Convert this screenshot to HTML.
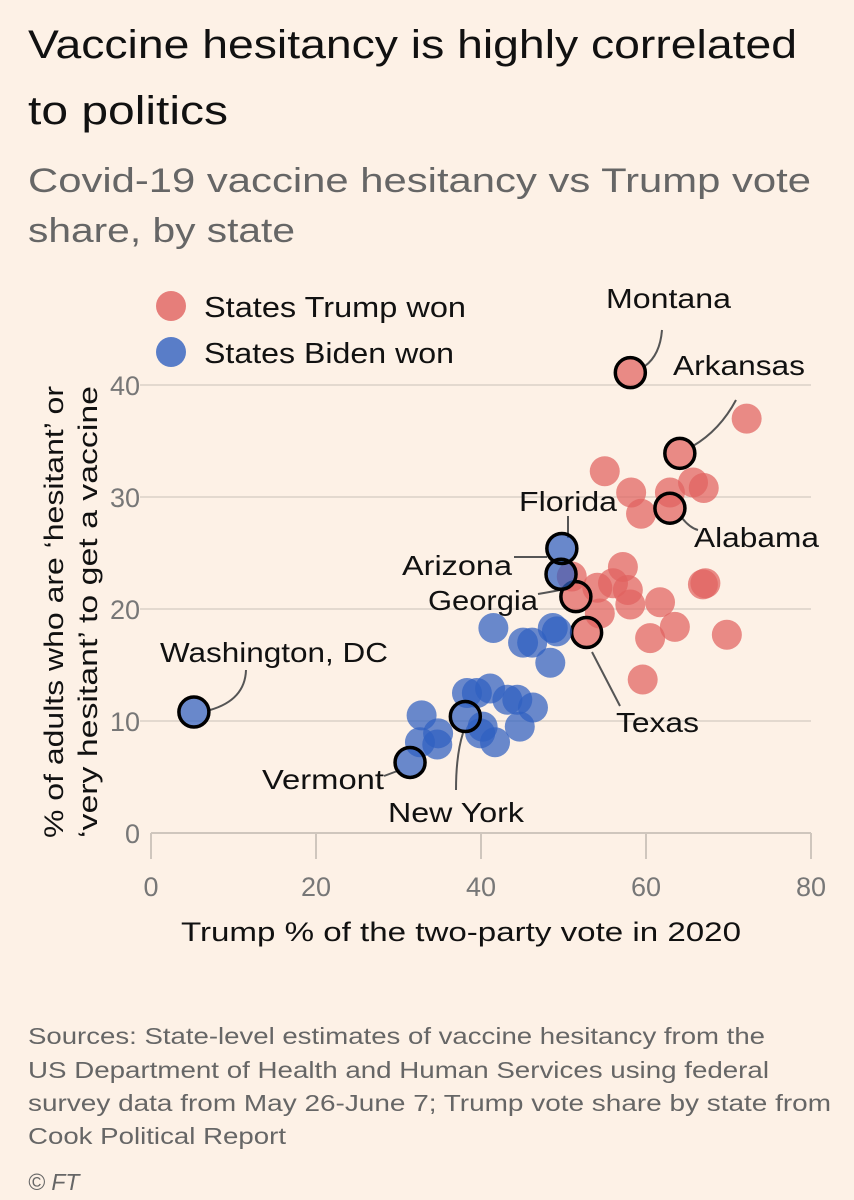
<!DOCTYPE html>
<html><head><meta charset="utf-8"><style>
html,body{margin:0;padding:0;background:#fdf1e6;}
svg{display:block;font-family:"Liberation Sans",sans-serif;}
</style></head><body>
<svg id="chart" width="854" height="1200" viewBox="0 0 854 1200" xmlns="http://www.w3.org/2000/svg">
<rect width="854" height="1200" fill="#fdf1e6"/>
<text x="28" y="58" font-size="40" fill="#111" textLength="769" lengthAdjust="spacingAndGlyphs">Vaccine hesitancy is highly correlated</text>
<text x="28" y="124" font-size="40" fill="#111" textLength="200" lengthAdjust="spacingAndGlyphs">to politics</text>
<text x="28" y="192" font-size="34" fill="#666" textLength="783" lengthAdjust="spacingAndGlyphs">Covid-19 vaccine hesitancy vs Trump vote</text>
<text x="28" y="242" font-size="34" fill="#666" textLength="267" lengthAdjust="spacingAndGlyphs">share, by state</text>
<g id="grid"></g>
<g id="axes"></g>
<g id="leaders" fill="none" stroke="#555" stroke-width="2">
<path d="M645 366 Q660 355 662 330"/>
<path d="M693 446 Q720 430 736 400"/>
<path d="M568 516 L568 538"/>
<path d="M682 518 Q690 528 698 530"/>
<path d="M514 557 L547 557"/>
<path d="M538 594 Q550 592 560 590"/>
<path d="M592 652 L620 706"/>
<path d="M210 710 Q245 700 246 670"/>
<path d="M384 776 L400 770"/>
<path d="M456 790 Q456 755 463 733"/>
</g>
<g id="points"></g>
<g id="labels" font-size="28" fill="#111">
<text x="606" y="308" textLength="125" lengthAdjust="spacingAndGlyphs">Montana</text>
<text x="673" y="375" textLength="132" lengthAdjust="spacingAndGlyphs">Arkansas</text>
<text x="519" y="511" textLength="98" lengthAdjust="spacingAndGlyphs">Florida</text>
<text x="694" y="547" textLength="125" lengthAdjust="spacingAndGlyphs">Alabama</text>
<text x="402" y="575" textLength="110" lengthAdjust="spacingAndGlyphs">Arizona</text>
<text x="428" y="610" textLength="110" lengthAdjust="spacingAndGlyphs">Georgia</text>
<text x="616" y="732" textLength="83" lengthAdjust="spacingAndGlyphs">Texas</text>
<text x="160" y="662" textLength="228" lengthAdjust="spacingAndGlyphs">Washington, DC</text>
<text x="262" y="789" textLength="122" lengthAdjust="spacingAndGlyphs">Vermont</text>
<text x="388" y="822" textLength="136" lengthAdjust="spacingAndGlyphs">New York</text>
</g>
<g id="legend">
<circle cx="171" cy="306" r="15" fill="#e0625f" fill-opacity="0.8"/>
<text x="204" y="317" font-size="29" fill="#111" textLength="262" lengthAdjust="spacingAndGlyphs">States Trump won</text>
<circle cx="171" cy="352" r="15" fill="#2f60c0" fill-opacity="0.8"/>
<text x="204" y="363" font-size="29" fill="#111" textLength="250" lengthAdjust="spacingAndGlyphs">States Biden won</text>
</g>
<text transform="translate(63,612) rotate(-90)" font-size="27" fill="#111" text-anchor="middle" textLength="452" lengthAdjust="spacingAndGlyphs">% of adults who are ‘hesitant’ or</text>
<text transform="translate(97,612) rotate(-90)" font-size="27" fill="#111" text-anchor="middle" textLength="452" lengthAdjust="spacingAndGlyphs">‘very hesitant’ to get a vaccine</text>
<text x="461" y="941" font-size="27" fill="#111" text-anchor="middle" textLength="560" lengthAdjust="spacingAndGlyphs">Trump % of the two-party vote in 2020</text>
<g font-size="23" fill="#666">
<text x="28" y="1044" textLength="737" lengthAdjust="spacingAndGlyphs">Sources: State-level estimates of vaccine hesitancy from the</text>
<text x="28" y="1078" textLength="741" lengthAdjust="spacingAndGlyphs">US Department of Health and Human Services using federal</text>
<text x="28" y="1111" textLength="803" lengthAdjust="spacingAndGlyphs">survey data from May 26-June 7; Trump vote share by state from</text>
<text x="28" y="1144" textLength="258" lengthAdjust="spacingAndGlyphs">Cook Political Report</text>
</g>
<text x="28" y="1190" font-size="23" fill="#666" font-style="italic">© FT</text>
</svg>
<script>
const xTicks = [0, 20, 40, 60, 80];
const yTicks = [0, 10, 20, 30, 40];
const trumpX = [58.1, 64.1, 62.9, 51.5, 52.8, 72.2, 55.0, 58.2, 59.4, 62.9, 65.7, 67.0, 66.9, 57.2, 54.1, 56.0, 57.8, 58.1, 54.4, 61.7, 63.5, 60.5, 67.2, 69.8, 59.6, 51.0];
const trumpY = [41.1, 33.9, 29.0, 21.1, 17.9, 37.0, 32.3, 30.4, 28.5, 30.4, 31.3, 30.8, 22.2, 23.75, 21.9, 22.3, 21.7, 20.4, 19.6, 20.6, 18.4, 17.4, 22.3, 17.7, 13.7, 22.9];
const trumpHi = [1, 1, 1, 1, 1, 0, 0, 0, 0, 0, 0, 0, 0, 0, 0, 0, 0, 0, 0, 0, 0, 0, 0, 0, 0, 0];
const bidenX = [49.8, 49.7, 5.2, 31.4, 38.1, 41.5, 48.7, 45.1, 46.2, 48.4, 49.2, 32.8, 34.8, 32.6, 34.7, 39.5, 41.1, 39.9, 41.7, 43.2, 44.4, 46.3, 44.7, 40.2, 38.3];
const bidenY = [25.4, 23.1, 10.8, 6.3, 10.4, 18.3, 18.3, 17.0, 17.0, 15.2, 18.0, 10.5, 8.9, 8.1, 7.9, 12.5, 12.9, 8.9, 8.1, 11.9, 11.9, 11.2, 9.5, 9.5, 12.5];
const bidenHi = [1, 1, 1, 1, 1, 0, 0, 0, 0, 0, 0, 0, 0, 0, 0, 0, 0, 0, 0, 0, 0, 0, 0, 0, 0];

const NS = 'http://www.w3.org/2000/svg';
const X0 = 151, XU = 8.25, Y0 = 833, YU = 11.2;
const sx = v => X0 + v * XU;
const sy = v => Y0 - v * YU;
const grid = document.getElementById('grid');
const axes = document.getElementById('axes');
function mk(tag, attrs, parent) {
  const e = document.createElementNS(NS, tag);
  for (const k in attrs) e.setAttribute(k, attrs[k]);
  parent.appendChild(e);
  return e;
}
yTicks.forEach(t => {
  if (t > 0) {
    const l = mk('line', {x1: 140, x2: 811, y1: sy(t), y2: sy(t), stroke: '#e3d9cf', 'stroke-width': 2}, grid);
    
    
  }
  const tx = mk('text', {x: 140, y: sy(t) + 10, 'text-anchor': 'end', 'font-size': 27, fill: '#777'}, axes);
  
  
  tx.textContent = t;
});
const base = mk('line', {x1: sx(0), x2: sx(80), y1: Y0, y2: Y0, stroke: '#cfc6bd', 'stroke-width': 2}, axes);


xTicks.forEach(t => {
  const l = mk('line', {x1: sx(t), x2: sx(t), y1: Y0, y2: Y0 + 26, stroke: '#cfc6bd', 'stroke-width': 2}, axes);
  
  
  const tx = mk('text', {x: sx(t), y: Y0 + 63, 'text-anchor': 'middle', 'font-size': 27, fill: '#777'}, axes);
  
  
  tx.textContent = t;
});
const pts = document.getElementById('points');
function drawSeries(xs, ys, hi, color, name) {
  xs.forEach((v, i) => {
    const c = mk('circle', {cx: sx(v), cy: sy(ys[i]), r: 15, fill: color, 'fill-opacity': 0.72}, pts);
    
    
  });
  xs.forEach((v, i) => {
    if (!hi[i]) return;
    const c = mk('circle', {cx: sx(v), cy: sy(ys[i]), r: 15, fill: 'none', stroke: '#000', 'stroke-width': 3.5}, pts);
    
    
  });
}
drawSeries(trumpX, trumpY, trumpHi, '#e0625f', 'point-trump-state');
drawSeries(bidenX, bidenY, bidenHi, '#2f60c0', 'point-biden-state');
</script>
</body></html>
